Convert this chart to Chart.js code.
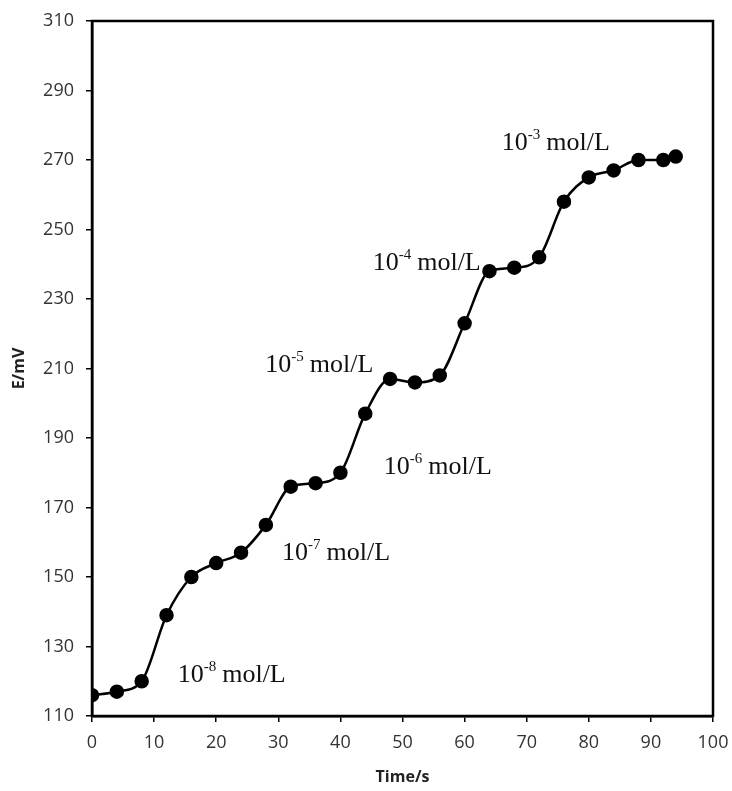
<!DOCTYPE html>
<html>
<head>
<meta charset="utf-8">
<script src="https://cdn.jsdelivr.net/npm/chart.js@4/dist/chart.umd.min.js"></script>
<style>
  html, body { margin: 0; padding: 0; background: #fff; }
  #wrap { width: 732px; height: 791px; position: relative; }
</style>
</head>
<body>
<div id="wrap"><canvas id="chart"></canvas></div>
<script>
// data
const timeS = [0, 4, 8, 12, 16, 20, 24, 28, 32, 36, 40, 44, 48, 52, 56, 60, 64, 68, 72, 76, 80, 84, 88, 92, 94];
const potentialMv = [116, 117, 120, 139, 150, 154, 157, 165, 176, 177, 180, 197, 207, 206, 208, 223, 238, 239, 242, 258, 265, 267, 270, 270, 271];

// concentration labels: exponent and data position (x left, y centre)
const labelExp = ['-8', '-7', '-6', '-5', '-4', '-3'];
const labelX = [13.8, 30.6, 47, 27.9, 45.2, 66];
const labelY = [121.8, 156.9, 181.7, 211, 240.4, 274.9];

const points = timeS.map((t, i) => ({ x: t, y: potentialMv[i] }));

// closes the box and writes the concentration notes
const framePlugin = {
    id: 'frame',
    afterDraw(chart) {
        const { ctx, chartArea: a, scales } = chart;
        ctx.save();
        ctx.strokeStyle = '#000';
        ctx.lineWidth = 2.5;
        ctx.strokeRect(a.left, a.top, a.right - a.left, a.bottom - a.top);

        const serif = '"Liberation Serif", "DejaVu Serif", serif';
        ctx.fillStyle = '#111';
        ctx.textBaseline = 'middle';
        labelExp.forEach((exp, i) => {
            let x = scales.x.getPixelForValue(labelX[i]);
            const y = scales.y.getPixelForValue(labelY[i]);
            ctx.font = '26px ' + serif;
            ctx.fillText('10', x, y);
            x += ctx.measureText('10').width;
            ctx.font = '15px ' + serif;
            ctx.fillText(exp, x, y - 8);
            x += ctx.measureText(exp).width + 6;
            ctx.font = '26px ' + serif;
            ctx.fillText('mol/L', x, y);
        });
        ctx.restore();
    }
};

const tickFont = { family: '"Open Sans", "Liberation Sans", sans-serif', size: 18 };
const titleFont = { family: '"Open Sans", "Liberation Sans", sans-serif', size: 16, weight: 'bold' };

new Chart(document.getElementById('chart'), {
    type: 'line',
    data: {
        datasets: [{
            data: points,
            borderColor: '#000',
            backgroundColor: '#000',
            borderWidth: 2.5,
            pointRadius: 6,
            pointHoverRadius: 6,
            cubicInterpolationMode: 'monotone',
            fill: false
        }]
    },
    options: {
        responsive: true,
        maintainAspectRatio: false,
        animation: false,
        layout: { padding: { top: 21, right: 19, left: 0, bottom: 0 } },
        plugins: { legend: { display: false }, tooltip: { enabled: false } },
        scales: {
            x: {
                type: 'linear',
                min: 0, max: 100,
                ticks: { stepSize: 10, color: '#333', font: tickFont, padding: 10 },
                grid: { drawOnChartArea: false, tickLength: 6, color: '#000', lineWidth: 1.5 },
                border: { color: '#000', width: 2.5 },
                title: { display: true, text: 'Time/s', color: '#222', font: titleFont, padding: { top: 4 } },
                afterFit(s) { s.height = 75; s.paddingLeft = 0; s.paddingRight = 0; }
            },
            y: {
                min: 110, max: 310,
                ticks: { stepSize: 20, color: '#333', font: tickFont, padding: 12 },
                grid: { drawOnChartArea: false, tickLength: 6, color: '#000', lineWidth: 1.5 },
                border: { color: '#000', width: 2.5 },
                title: { display: true, text: 'E/mV', color: '#222', font: titleFont, padding: { top: 10, bottom: 4 } },
                afterFit(s) { s.width = 92; s.paddingTop = 0; s.paddingBottom = 0; }
            }
        }
    },
    plugins: [framePlugin]
});
</script>
</body>
</html>
